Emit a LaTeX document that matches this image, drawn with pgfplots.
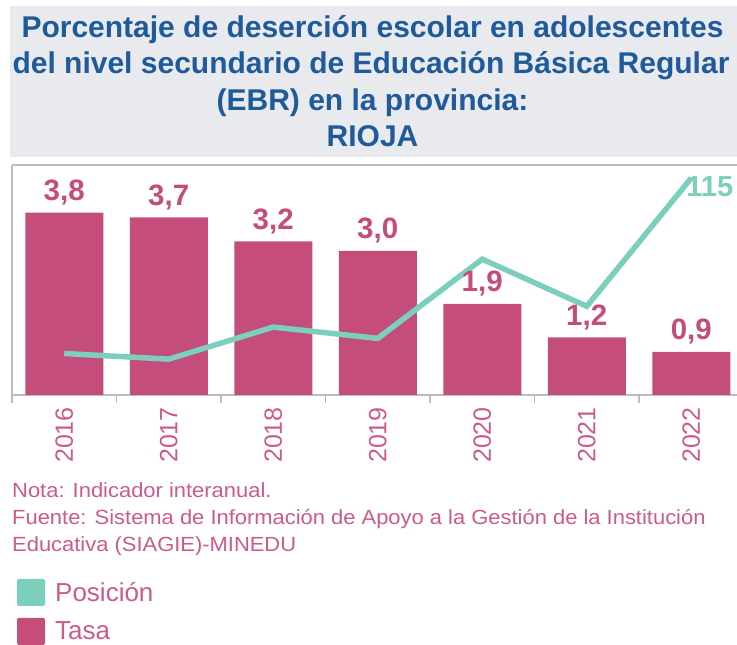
\documentclass[border=0pt]{standalone}
\usepackage{pgfplots}
\pgfplotsset{compat=1.18}
\usepackage{pgfplotstable}
\usepackage{fontspec}
\setmainfont{Liberation Sans}
\newfontfamily\notefont{Liberation Sans}[FakeStretch=1.07]
\definecolor{titleblue}{HTML}{1F5A9A}
\definecolor{titlebg}{HTML}{E9EAEE}
\definecolor{barpink}{HTML}{C44D7B}
\definecolor{txtpink}{HTML}{CC5A8C}
\definecolor{lgreen}{HTML}{7DCFBD}
\definecolor{axgray}{HTML}{BDBDBD}

\pgfplotstableread{
x tasa pos
0 3.8 22
1 3.7 19
2 3.2 36
3 3.0 30
4 1.9 72
5 1.2 47
6 0.9 115
}\datatable

\begin{document}
\begin{tikzpicture}[x=1pt,y=1pt]
\fill[titlebg] (10,488) rectangle (737,639);
\begin{scope}[every node/.style={anchor=base, inner sep=0pt, text=titleblue, font=\fontsize{30}{35}\selectfont\bfseries}]
\node at (372.5,607.5) {Porcentaje de deserción escolar en adolescentes};
\node at (371,571) {del nivel secundario de Educación Básica Regular};
\node at (372.5,534.5) {(EBR) en la provincia:};
\node at (372.5,498.5) {RIOJA};
\end{scope}

\pgfplotsset{base/.style={scale only axis, width=731.5pt, height=230pt,
  at={(12pt,250pt)}, anchor=south west, xmin=-0.5, xmax=6.5}}

\begin{axis}[base, ymin=0, ymax=4.7917,
  axis x line*=bottom, axis y line*=left,
  axis line style={axgray, line width=1.2pt, -},
  ytick=\empty, xtick={0,...,6}, xticklabels={2016,2017,2018,2019,2020,2021,2022},
  xtick pos=bottom, major tick length=0pt,
  extra x ticks={-0.5,0.5,1.5,2.5,3.5,4.5,5.5,6.5}, extra x tick labels={},
  extra x tick style={major tick length=8pt, tick align=outside, tick style={axgray, line width=1.2pt}},
  xticklabel style={rotate=90, anchor=east, inner sep=0pt, text=txtpink, font=\fontsize{25}{25}\selectfont},
  xticklabel shift=12pt]
\addplot[ybar, bar width=78pt, fill=barpink, draw=none] table[x=x,y=tasa]{\datatable};
\draw[axgray, line width=1.2pt] (rel axis cs:0,1) -- (rel axis cs:1,1);
\end{axis}

\begin{axis}[base, ymin=0, ymax=121.9, hide axis]
\addplot[lgreen, line width=5.5pt] table[x=x,y=pos]{\datatable};
\node[anchor=north west, inner sep=0pt, text=lgreen, font=\bfseries\fontsize{29}{30}\selectfont, xshift=-5pt, yshift=2pt] at (axis cs:6,115) {115};
\end{axis}

\begin{axis}[base, ymin=0, ymax=4.7917, hide axis,
  /pgf/number format/fixed, /pgf/number format/fixed zerofill,
  /pgf/number format/precision=1, /pgf/number format/use comma,
  /pgf/number format/assume math mode=true]
\addplot[draw=none, nodes near coords,
  nodes near coords style={anchor=base, inner sep=0pt, yshift=12pt, text=barpink, font=\bfseries\fontsize{29.5}{30}\selectfont}]
  table[x=x,y=tasa]{\datatable};
\end{axis}

\begin{scope}[every node/.style={anchor=base west, inner sep=0pt, text=txtpink, font=\notefont\fontsize{20.5}{22}\selectfont}]
\node at (12,147) {Nota: Indicador interanual.};
\node at (12,120) {Fuente: Sistema de Información de Apoyo a la Gestión de la Institución};
\node at (12,93) {Educativa (SIAGIE)-MINEDU};
\end{scope}

\fill[lgreen, rounded corners=1.5pt] (17,39) rectangle (45,66);
\fill[barpink, rounded corners=1.5pt] (17,0) rectangle (45,27);
\node[anchor=base west, inner sep=0pt, text=txtpink, font=\fontsize{26}{30}\selectfont] at (55,43) {Posición};
\node[anchor=base west, inner sep=0pt, text=txtpink, font=\fontsize{26}{30}\selectfont] at (55,5) {Tasa};

\pgfresetboundingbox
\path (0,0) rectangle (737,645);
\end{tikzpicture}
\end{document}
